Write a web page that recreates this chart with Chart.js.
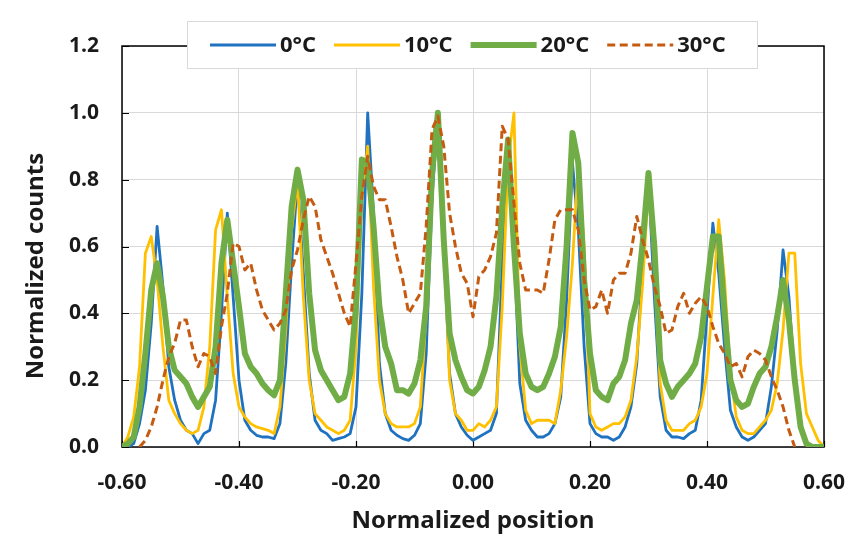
<!DOCTYPE html>
<html>
<head>
<meta charset="utf-8">
<script src="https://cdn.jsdelivr.net/npm/chart.js@4"></script>
<style>
  html, body { margin: 0; padding: 0; background: #fff; }
  canvas { display: block; }
</style>
</head>
<body>
<canvas id="chart" width="849" height="536"></canvas>
<script>
// normalized position (x), one value every 0.01
const positions = [
  -0.60, -0.59, -0.58, -0.57, -0.56, -0.55, -0.54, -0.53, -0.52, -0.51,
  -0.50, -0.49, -0.48, -0.47, -0.46, -0.45, -0.44, -0.43, -0.42, -0.41,
  -0.40, -0.39, -0.38, -0.37, -0.36, -0.35, -0.34, -0.33, -0.32, -0.31,
  -0.30, -0.29, -0.28, -0.27, -0.26, -0.25, -0.24, -0.23, -0.22, -0.21,
  -0.20, -0.19, -0.18, -0.17, -0.16, -0.15, -0.14, -0.13, -0.12, -0.11,
  -0.10, -0.09, -0.08, -0.07, -0.06, -0.05, -0.04, -0.03, -0.02, -0.01,
   0.00,  0.01,  0.02,  0.03,  0.04,  0.05,  0.06,  0.07,  0.08,  0.09,
   0.10,  0.11,  0.12,  0.13,  0.14,  0.15,  0.16,  0.17,  0.18,  0.19,
   0.20,  0.21,  0.22,  0.23,  0.24,  0.25,  0.26,  0.27,  0.28,  0.29,
   0.30,  0.31,  0.32,  0.33,  0.34,  0.35,  0.36,  0.37,  0.38,  0.39,
   0.40,  0.41,  0.42,  0.43,  0.44,  0.45,  0.46,  0.47,  0.48,  0.49,
   0.50,  0.51,  0.52,  0.53,  0.54,  0.55,  0.56,  0.57,  0.58,  0.59,
   0.60
];

const counts0C = [
  0, 0, 0.01, 0.07, 0.17, 0.37, 0.66, 0.48, 0.24, 0.14,
  0.08, 0.05, 0.04, 0.01, 0.04, 0.05, 0.14, 0.40, 0.70, 0.45,
  0.20, 0.08, 0.05, 0.035, 0.03, 0.03, 0.025, 0.07, 0.25, 0.55,
  0.80, 0.52, 0.22, 0.08, 0.05, 0.04, 0.02, 0.025, 0.03, 0.04,
  0.12, 0.46, 1.00, 0.70, 0.25, 0.10, 0.05, 0.035, 0.025, 0.02,
  0.035, 0.07, 0.28, 0.75, 0.98, 0.60, 0.22, 0.10, 0.06, 0.035,
  0.02, 0.03, 0.04, 0.05, 0.10, 0.55, 0.92, 0.60, 0.19, 0.08,
  0.05, 0.03, 0.03, 0.04, 0.07, 0.15, 0.44, 0.85, 0.65, 0.30,
  0.07, 0.04, 0.03, 0.03, 0.02, 0.03, 0.06, 0.12, 0.25, 0.55,
  0.80, 0.45, 0.15, 0.05, 0.03, 0.03, 0.025, 0.04, 0.05, 0.14,
  0.40, 0.67, 0.52, 0.30, 0.11, 0.06, 0.03, 0.02, 0.03, 0.05,
  0.07, 0.18, 0.35, 0.59, 0.45, 0.20, 0.06, 0.01, 0, 0,
  0
];

const counts10C = [
  0, 0.03, 0.09, 0.24, 0.58, 0.63, 0.50, 0.30, 0.14, 0.10,
  0.07, 0.05, 0.04, 0.05, 0.12, 0.30, 0.65, 0.71, 0.45, 0.22,
  0.12, 0.09, 0.07, 0.06, 0.055, 0.05, 0.04, 0.12, 0.35, 0.65,
  0.80, 0.45, 0.20, 0.10, 0.08, 0.06, 0.05, 0.04, 0.05, 0.08,
  0.30, 0.75, 0.90, 0.48, 0.20, 0.10, 0.07, 0.06, 0.06, 0.06,
  0.07, 0.12, 0.40, 0.85, 0.96, 0.62, 0.20, 0.10, 0.08, 0.05,
  0.05, 0.07, 0.06, 0.08, 0.12, 0.42, 0.85, 1.00, 0.30, 0.11,
  0.07, 0.08, 0.08, 0.08, 0.07, 0.17, 0.33, 0.55, 0.85, 0.60,
  0.10, 0.06, 0.05, 0.06, 0.07, 0.07, 0.09, 0.14, 0.27, 0.49,
  0.78, 0.55, 0.19, 0.08, 0.05, 0.05, 0.05, 0.07, 0.08, 0.12,
  0.22, 0.45, 0.68, 0.50, 0.22, 0.09, 0.05, 0.04, 0.04, 0.06,
  0.08, 0.11, 0.19, 0.35, 0.58, 0.58, 0.25, 0.10, 0.06, 0.02,
  0
];

const counts20C = [
  0, 0.01, 0.03, 0.12, 0.28, 0.47, 0.55, 0.45, 0.30, 0.23,
  0.21, 0.19, 0.15, 0.12, 0.15, 0.18, 0.30, 0.55, 0.68, 0.55,
  0.42, 0.28, 0.24, 0.22, 0.19, 0.17, 0.155, 0.20, 0.46, 0.72,
  0.83, 0.74, 0.46, 0.29, 0.23, 0.20, 0.17, 0.14, 0.15, 0.22,
  0.42, 0.86, 0.85, 0.66, 0.42, 0.30, 0.25, 0.17, 0.17, 0.16,
  0.19, 0.26, 0.42, 0.82, 1.00, 0.62, 0.34, 0.26, 0.21, 0.17,
  0.16, 0.18, 0.23, 0.30, 0.45, 0.72, 0.92, 0.60, 0.34, 0.22,
  0.18, 0.17, 0.18, 0.22, 0.27, 0.36, 0.60, 0.94, 0.85, 0.50,
  0.28, 0.17, 0.15, 0.14, 0.19, 0.21, 0.26, 0.37, 0.44, 0.61,
  0.82, 0.60, 0.26, 0.19, 0.15, 0.18, 0.20, 0.22, 0.25, 0.33,
  0.48, 0.63, 0.63, 0.40, 0.20, 0.14, 0.12, 0.13, 0.18, 0.22,
  0.24, 0.30, 0.39, 0.50, 0.38, 0.20, 0.06, 0.01, 0, 0,
  0
];

const counts30C = [
  null, null, null, 0, 0.02, 0.06, 0.12, 0.20, 0.27, 0.31,
  0.38, 0.38, 0.30, 0.24, 0.28, 0.27, 0.22, 0.36, 0.46, 0.61,
  0.60, 0.53, 0.55, 0.47, 0.41, 0.38, 0.35, 0.37, 0.41, 0.53,
  0.59, 0.68, 0.75, 0.72, 0.62, 0.57, 0.52, 0.46, 0.40, 0.36,
  0.55, 0.75, 0.87, 0.78, 0.74, 0.74, 0.66, 0.57, 0.50, 0.40,
  0.43, 0.46, 0.66, 0.95, 0.99, 0.90, 0.70, 0.60, 0.52, 0.49,
  0.39, 0.51, 0.53, 0.57, 0.64, 0.96, 0.92, 0.73, 0.55, 0.47,
  0.47, 0.47, 0.46, 0.56, 0.68, 0.71, 0.71, 0.71, 0.65, 0.50,
  0.41, 0.42, 0.47, 0.40, 0.50, 0.52, 0.52, 0.58, 0.69, 0.62,
  0.56, 0.48, 0.42, 0.34, 0.35, 0.42, 0.46, 0.40, 0.43, 0.45,
  0.42, 0.36, 0.31, 0.28, 0.24, 0.25, 0.21, 0.27, 0.29, 0.28,
  0.26, 0.21, 0.17, 0.12, 0.05, 0, null, null, null, null,
  null
];

const seriesNames = ['0°C', '10°C', '20°C', '30°C'];
const xTicks = [-0.6, -0.4, -0.2, 0, 0.2, 0.4, 0.6];
const yTicks = [0, 0.2, 0.4, 0.6, 0.8, 1.0, 1.2];

const FONT = '"Open Sans", "DejaVu Sans", sans-serif';
const TEXT = '#1a1a1a';

function pts(vals) {
  return positions.map((x, i) => ({ x: x, y: vals[i] }));
}

const datasets = [
  { label: seriesNames[0], data: pts(counts0C), borderColor: '#1F72C0', borderWidth: 2.8, order: 3 },
  { label: seriesNames[1], data: pts(counts10C), borderColor: '#FFC000', borderWidth: 2.8, order: 2 },
  { label: seriesNames[2], data: pts(counts20C), borderColor: '#70AD47', borderWidth: 6, order: 1 },
  { label: seriesNames[3], data: pts(counts30C), borderColor: '#C55A11', borderWidth: 3, borderDash: [8, 4.5], order: 0 }
];
datasets.forEach(d => {
  d.fill = false;
  d.tension = 0;
  d.pointRadius = 0;
  d.spanGaps = false;
  d.borderJoinStyle = 'round';
});

// frame, inner tick marks, y title and the legend box over the top edge
const decor = {
  id: 'decor',
  beforeDatasetsDraw(chart) {
    const { ctx, chartArea: a, scales } = chart;
    ctx.save();
    ctx.strokeStyle = '#000';
    ctx.lineWidth = 1.5;
    ctx.strokeRect(a.left, a.top, a.right - a.left, a.bottom - a.top);
    ctx.lineWidth = 1.2;
    ctx.beginPath();
    yTicks.forEach(v => {
      const y = Math.round(scales.y.getPixelForValue(v)) + 0.5;
      ctx.moveTo(a.left, y); ctx.lineTo(a.left + 7, y);
    });
    xTicks.forEach(v => {
      const x = Math.round(scales.x.getPixelForValue(v)) + 0.5;
      ctx.moveTo(x, a.bottom); ctx.lineTo(x, a.bottom - 6);
    });
    ctx.stroke();
    ctx.restore();
  },
  afterDraw(chart) {
    const { ctx } = chart;
    ctx.save();
    // y axis title
    ctx.translate(36, 266);
    ctx.rotate(-Math.PI / 2);
    ctx.fillStyle = TEXT;
    ctx.font = 'bold 24px ' + FONT;
    ctx.textAlign = 'center';
    ctx.textBaseline = 'middle';
    ctx.fillText('Normalized counts', 0, 0);
    ctx.restore();

    // legend
    ctx.save();
    ctx.fillStyle = '#fff';
    ctx.fillRect(187, 21, 570, 47);
    ctx.strokeStyle = '#d9d9d9';
    ctx.lineWidth = 1;
    ctx.strokeRect(187.5, 21.5, 570, 47);
    ctx.font = 'bold 22px ' + FONT;
    ctx.textBaseline = 'middle';
    ctx.textAlign = 'left';
    let x = 210;
    const y = 45;
    chart.data.datasets.forEach(d => {
      ctx.strokeStyle = d.borderColor;
      ctx.lineWidth = d.borderWidth === 6 ? 6 : 3;
      ctx.setLineDash(d.borderDash || []);
      ctx.beginPath();
      ctx.moveTo(x, y); ctx.lineTo(x + 66, y);
      ctx.stroke();
      ctx.setLineDash([]);
      ctx.fillStyle = TEXT;
      ctx.fillText(d.label, x + 70, y + 1);
      x += 70 + ctx.measureText(d.label).width + 18;
    });
    ctx.restore();
  }
};

new Chart(document.getElementById('chart'), {
  type: 'line',
  data: { datasets: datasets },
  options: {
    responsive: false,
    animation: false,
    devicePixelRatio: 1,
    layout: { padding: { top: 46, right: 25, left: 0, bottom: 0 } },
    plugins: { legend: { display: false }, tooltip: { enabled: false } },
    scales: {
      x: {
        type: 'linear',
        min: -0.6,
        max: 0.6,
        afterFit(scale) {
          scale.height = 89;
          scale.paddingLeft = 0;
          scale.paddingRight = 0;
        },
        afterBuildTicks(scale) { scale.ticks = xTicks.map(v => ({ value: v })); },
        grid: { color: '#d9d9d9', lineWidth: 1, drawTicks: false },
        border: { display: false },
        ticks: {
          padding: 23,
          color: TEXT,
          font: { family: FONT, size: 21, weight: 'bold' },
          maxRotation: 0,
          callback: v => (Math.abs(v) < 1e-9 ? 0 : v).toFixed(2)
        },
        title: {
          display: true,
          text: 'Normalized position',
          color: TEXT,
          font: { family: FONT, size: 24, weight: 'bold' },
          padding: { top: 0, bottom: 0 }
        }
      },
      y: {
        min: 0,
        max: 1.2,
        afterFit(scale) {
          scale.width = 122;
          scale.paddingTop = 0;
          scale.paddingBottom = 0;
        },
        afterBuildTicks(scale) { scale.ticks = yTicks.map(v => ({ value: v })); },
        grid: { color: '#d9d9d9', lineWidth: 1, drawTicks: false },
        border: { display: false },
        ticks: {
          padding: 23,
          color: TEXT,
          font: { family: FONT, size: 21, weight: 'bold' },
          callback: v => v.toFixed(1)
        }
      }
    }
  },
  plugins: [decor]
});
</script>
</body>
</html>
